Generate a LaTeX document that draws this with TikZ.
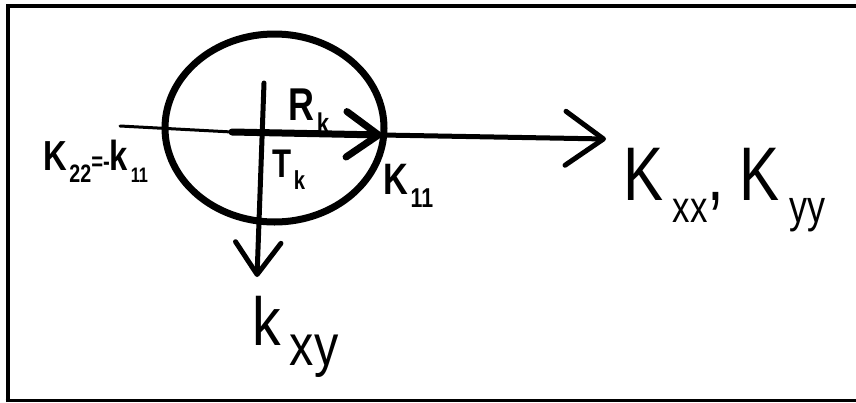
\documentclass[tikz,border=0pt]{standalone}
\usepackage{fontspec}
\setmainfont{Liberation Sans}
\usetikzlibrary{arrows.meta,positioning}

\newcommand{\sbs}[2][0.7]{\kern0.08em\raisebox{-0.3em}{\scalebox{#1}{#2}}}
\newcommand{\fs}[1]{\fontsize{#1}{#1}\selectfont}
\newcommand{\nar}[2][0.78]{\scalebox{#1}[1]{#2}}

\tikzset{
  frame/.style={line width=4pt},
  axis/.style={line width=5pt,line cap=round,line join=round},
  barb/.style={-{Straight Barb[length=#1pt,width=1.42*#1pt,round]}},
  lbl/.style={inner sep=0pt,anchor=base west}
}

\begin{document}
\begin{tikzpicture}[x=1pt,y=-1pt]
  \useasboundingbox (0,0) rectangle (856,402);
  % frame of the scan
  \draw[frame] (7.5,402) -- (7.5,5.5) -- (856,5.5);
  \draw[frame,line width=3pt] (5.5,400.5) -- (856,400.5);

  % points of the sketch
  \coordinate (C) at (274.5,128);
  \coordinate (W) at (120,126);
  \coordinate (E) at (606,139);
  \coordinate (O) at (232,132);
  \coordinate (P) at (382,135);
  \coordinate (N) at (264,83);
  \coordinate (S) at (257,277);

  % circle and axes
  \draw[axis,line width=7pt] (C) ellipse (109.5 and 94);
  \draw[axis,line width=3pt] (W) -- (O);
  \draw[axis,barb=38] (P) -- (E);
  \draw[axis,line width=7pt,barb=32] (O) -- (P);
  \draw[axis,barb=32] (N) -- (S);

  % labels
  \node[lbl] (rk) at (288,120) {\fs{46}\bfseries\nar{R\sbs[0.62]{k}}};
  \node[lbl] (tk) at (272,177) {\fs{40}\bfseries\nar{T\sbs[0.65]{k}}};
  \node[lbl] (k11) at (383,194) {\fs{44}\bfseries\nar{K\sbs[0.62]{11}}};
  \node[lbl] (k22) at (43,170) {\fs{42}\bfseries\nar{K\sbs[0.6]{22}{\fs{26}=-}k\sbs[0.5]{11}}};
  \node[lbl] (kxx) at (623,200) {\fs{76}\nar[0.79]{K\kern0.08em\sbs[0.58]{xx},\kern0.25em K\kern0.08em\sbs[0.6]{yy}}};
  \node[lbl] (kxy) at (252,345) {\fs{68}\nar[0.84]{k\kern0.08em\sbs[0.85]{xy}}};
\end{tikzpicture}
\end{document}
